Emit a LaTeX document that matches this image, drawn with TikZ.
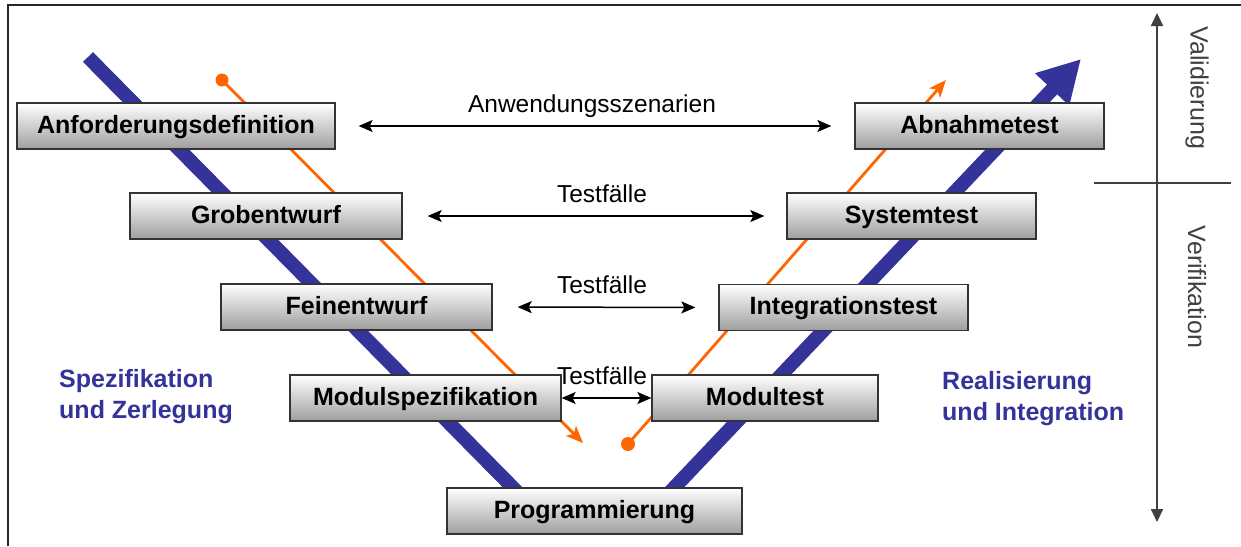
\documentclass[tikz,border=0pt]{standalone}
\usepackage{fontspec}
\setmainfont{Liberation Sans}
\usetikzlibrary{arrows.meta}
\definecolor{vblue}{HTML}{333399}
\definecolor{vorange}{HTML}{FF6600}
\begin{document}
\begin{tikzpicture}[x=1pt,y=-1pt,
 phase/.style={draw=black!80, line width=1.3pt, top color=white, bottom color=black!38, minimum height=46pt, inner sep=0pt, text height=18.5pt, text depth=4.5pt, font=\fontsize{25}{29}\selectfont\bfseries},
 vbar/.style={vblue, line width=14pt},
 oline/.style={vorange, line width=2.8pt},
 rel/.style={black, line width=1.5pt, {Stealth[length=14pt,width=12pt,inset=3pt]}-{Stealth[length=14pt,width=12pt,inset=3pt]}},
 lbl/.style={font=\fontsize{24.5}{28}\selectfont, anchor=base, inner sep=0pt},
 side/.style={vblue, font=\fontsize{25}{31}\selectfont\bfseries, align=left, anchor=north west, inner sep=0pt},
 axisline/.style={black!75, line width=2pt},
 axlbl/.style={black!75, font=\fontsize{25}{28}\selectfont, rotate=-90, inner sep=0pt}
]
\useasboundingbox (0,0) rectangle (1241,546);
\fill[white] (0,0) rectangle (1241,546);
\draw[line width=2pt, black!85] (8,546) -- (8,5) -- (1241,5);

% V bars
\coordinate (bl0) at (88,57);
\coordinate (bl1) at (535,510);
\coordinate (br0) at (653,510);
\coordinate (br1) at (1081,59);
\draw[vbar] (bl0) -- (bl1);
\draw[vbar, -{Triangle[length=42pt,width=44pt]}] (br0) -- (br1);

% orange lines
\coordinate (ol0) at (222,80);
\coordinate (ol1) at (583,443);
\coordinate (or0) at (628,444);
\coordinate (or1) at (946,80);
\draw[oline, -{Stealth[length=17pt,width=14pt,inset=4pt]}] (ol0) -- (ol1);
\draw[oline, -{Stealth[length=17pt,width=14pt,inset=4pt]}] (or0) -- (or1);
\fill[vorange] (ol0) circle (6.5pt);
\fill[vorange] (or0) circle (7pt);

% phase boxes
\node[phase, minimum width=318pt] (anf) at (176,126) {Anforderungsdefinition};
\node[phase, minimum width=272pt] (grob) at (266,216) {Grobentwurf};
\node[phase, minimum width=271pt] (fein) at (356.5,307) {Feinentwurf};
\node[phase, minimum width=271pt] (modsp) at (425.5,398) {Modulspezifikation};
\node[phase, minimum width=295pt] (prog) at (594.5,511) {Programmierung};
\node[phase, minimum width=226pt] (modt) at (765,398) {Modultest};
\node[phase, minimum width=249pt] (integ) at (843.5,307.5) {Integrationstest};
\node[phase, minimum width=249pt] (sys) at (911.5,216) {Systemtest};
\node[phase, minimum width=249pt] (abn) at (979.5,126) {Abnahmetest};

% relations
\draw[rel, shorten <=23pt, shorten >=23pt] (anf.east) -- (abn.west);
\draw[rel, shorten <=25pt, shorten >=22pt] (grob.east) -- (sys.west);
\draw[rel, shorten <=25pt, shorten >=23pt] (fein.east) -- (integ.west);
\draw[rel] (modsp.east) -- (modt.west);
\node[lbl] (l1) at (592,112) {Anwendungsszenarien};
\node[lbl] (l2) at (602,202) {Testfälle};
\node[lbl] (l3) at (602,293) {Testfälle};
\node[lbl] (l4) at (602,384) {Testfälle};

% side labels
\node[side] (spz) at (59,369) {Spezifikation\\und Zerlegung};
\node[side] (real) at (942,371) {Realisierung\\und Integration};

% axis
\coordinate (axt) at (1157,13);
\coordinate (axb) at (1157,522);
\coordinate (axm) at (1157,183);
\coordinate (sepl) at (1094,183);
\coordinate (sepr) at (1231,183);
\draw[axisline, -{Triangle[length=13pt,width=12pt]}] (axm) -- (axt);
\draw[axisline, -{Triangle[length=13pt,width=12pt]}] (axm) -- (axb);
\draw[axisline] (sepl) -- (sepr);
\node[axlbl] (val) at (1197,88) {Validierung};
\node[axlbl] (ver) at (1197,287) {Verifikation};
\end{tikzpicture}
\end{document}
